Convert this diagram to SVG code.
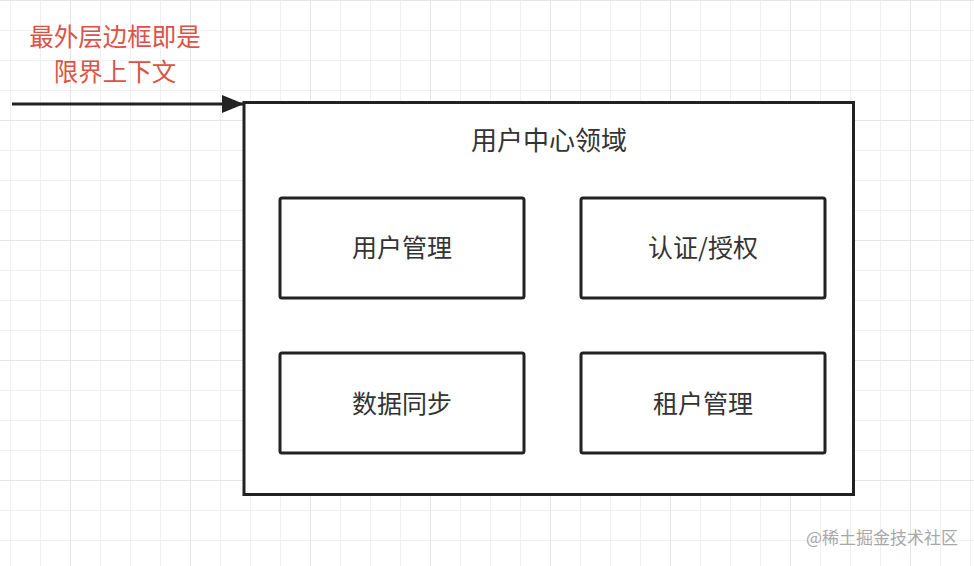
<svg xmlns="http://www.w3.org/2000/svg" width="974" height="566" viewBox="0 0 974 566">
  <style>
    .box { fill: #ffffff; stroke: #222222; stroke-width: 3; }
    .lbl { font-family: "Noto Sans CJK SC", "Noto Sans", sans-serif; font-size: 25px; fill: #333333; text-anchor: middle; }
    .title { font-size: 26px; }
    .note { font-family: "Noto Sans CJK SC", "Noto Sans", sans-serif; font-size: 24.5px; fill: #dd5246; text-anchor: middle; }
    .wm { font-family: "Noto Sans CJK SC", "Noto Sans", sans-serif; font-size: 17px; fill: #a8a8a8; text-anchor: end; }
  </style>
  <defs>
    <pattern id="grid" x="10" y="0" width="120" height="120" patternUnits="userSpaceOnUse">
      <g stroke="#f0f0f0" stroke-width="1">
        <line x1="0.5" y1="0" x2="0.5" y2="120"/>
        <line x1="30.5" y1="0" x2="30.5" y2="120"/>
        <line x1="90.5" y1="0" x2="90.5" y2="120"/>
        <line x1="0" y1="30.5" x2="120" y2="30.5"/>
        <line x1="0" y1="60.5" x2="120" y2="60.5"/>
        <line x1="0" y1="90.5" x2="120" y2="90.5"/>
      </g>
      <g stroke="#e6e6e6" stroke-width="1">
        <line x1="60.5" y1="0" x2="60.5" y2="120"/>
        <line x1="0" y1="0.5" x2="120" y2="0.5"/>
      </g>
    </pattern>
    <marker id="arrow" markerUnits="userSpaceOnUse" markerWidth="24" markerHeight="20" refX="22" refY="9" orient="auto">
      <path d="M0,0 L22,9 L0,18 Z" fill="#222222"/>
    </marker>
  </defs>
  <rect x="0" y="0" width="974" height="566" fill="#ffffff"/>
  <rect x="0" y="0" width="974" height="566" fill="url(#grid)"/>

  <g id="note">
    <text class="note" x="115" y="45.5">最外层边框即是</text>
    <text class="note" x="115" y="81">限界上下文</text>
  </g>

  <g id="context">
    <rect class="box" x="244" y="102.5" width="609.5" height="392"/>
    <text class="lbl title" x="549" y="150">用户中心领域</text>
  </g>

  <g id="user-mgmt">
    <rect class="box" x="280" y="198" width="244" height="100" rx="2"/>
    <text class="lbl" x="402" y="256.5">用户管理</text>
  </g>
  <g id="auth">
    <rect class="box" x="581" y="198" width="244" height="100" rx="2"/>
    <text class="lbl" x="703" y="256.5">认证/授权</text>
  </g>
  <g id="data-sync">
    <rect class="box" x="280" y="353" width="244" height="100" rx="2"/>
    <text class="lbl" x="402" y="412.5">数据同步</text>
  </g>
  <g id="tenant-mgmt">
    <rect class="box" x="581" y="353" width="244" height="100" rx="2"/>
    <text class="lbl" x="703" y="412.5">租户管理</text>
  </g>

  <g id="connectors">
    <line x1="12" y1="104" x2="244" y2="104" stroke="#222222" stroke-width="3" marker-end="url(#arrow)"/>
  </g>

  <text class="wm" x="958" y="544">@稀土掘金技术社区</text>
</svg>
